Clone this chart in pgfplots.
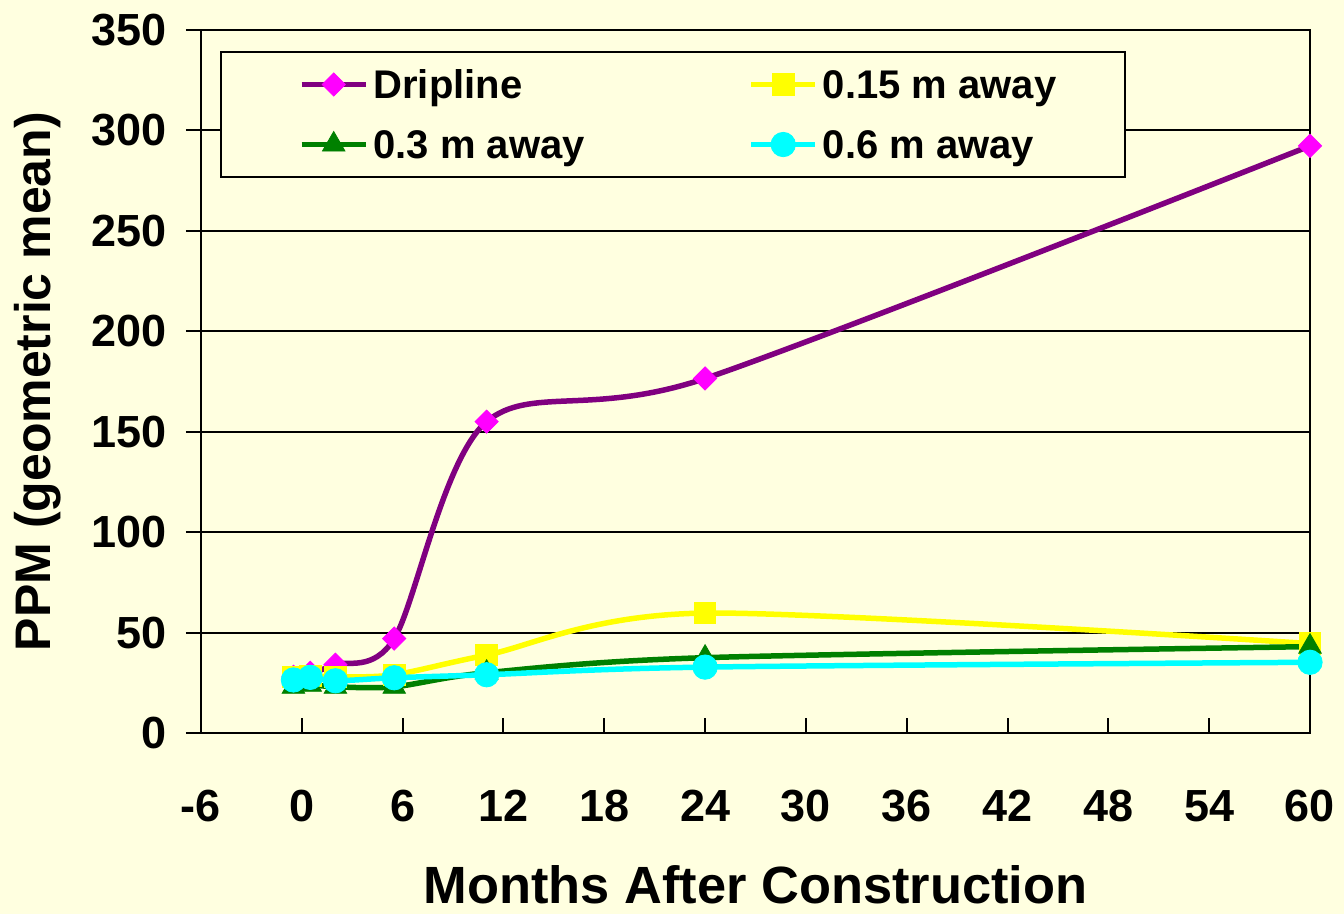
\documentclass[border=0pt]{standalone}
\usepackage{pgfplots}
\pgfplotsset{compat=1.18}
\usepackage{fontspec}
\setmainfont{Liberation Sans}
\definecolor{bg}{RGB}{255,255,224}
\definecolor{drip}{RGB}{128,0,128}
\definecolor{dripm}{RGB}{255,0,255}
\definecolor{yel}{RGB}{255,255,0}
\definecolor{grn}{RGB}{0,128,0}
\definecolor{cya}{RGB}{0,255,255}
\begin{document}
\begin{tikzpicture}
\fill[bg] (-100.5pt,-90.5pt) rectangle (571.5pt,366.5pt);
\begin{axis}[
  at={(0,0)}, anchor=south west,
  scale only axis, width=554.5pt, height=351.5pt,
  xmin=-6, xmax=60, ymin=0, ymax=350,
  xtick={-6,0,6,12,18,24,30,36,42,48,54,60},
  xticklabels={-6,0,6,12,18,24,30,36,42,48,54,60},
  ytick={0,50,100,150,200,250,300,350},
  yticklabels={0,50,100,150,200,250,300,350},
  axis line style={line width=1pt, black},
  ymajorgrids, grid style={line width=1pt, black},
  major tick length=7.5pt,
  xtick align=inside, ytick align=outside,
  tick style={line width=1pt, black},
  xtick pos=bottom, ytick pos=left,
  xticklabel style={font=\fontsize{22.5}{27}\selectfont\bfseries, inner sep=0pt, anchor=north, yshift=-28.5pt},
  yticklabel style={font=\fontsize{22.5}{27}\selectfont\bfseries, inner sep=0pt, anchor=east, xshift=-9.5pt},
  xlabel={Months After Construction},
  ylabel={PPM (geometric mean)},
  every axis x label/.style={at={(axis description cs:0.5,0)}, anchor=center, yshift=-76pt, font=\fontsize{26.2}{30}\selectfont\bfseries},
  every axis y label/.style={at={(axis description cs:0,0.5)}, rotate=90, anchor=center, yshift=81.75pt, font=\fontsize{25}{30}\selectfont\bfseries},
  legend columns=2,
  legend cell align=left,
  legend style={at={(0.0171,0.9701)}, anchor=north west, fill=bg, draw=black, line width=1pt,
    inner xsep=39pt, inner ysep=1.25pt, row sep=0pt,
    font=\fontsize{20}{24}\selectfont\bfseries,
    nodes={inner sep=0pt, text height=22.2pt, text depth=7.8pt},
    /tikz/every odd column/.append style={column sep=2.5pt}},
  legend image code/.code={\draw[mark repeat=2, mark phase=2, #1] plot coordinates {(0pt,0pt) (16pt,0pt) (32pt,0pt)};},
]
\addplot[drip, line width=2.75pt, smooth, mark=square*, mark size=4.1pt,
  mark options={fill=dripm, draw=dripm, line width=0.4pt, rotate=45, solid}] coordinates {
  (-0.5,28) (0.5,30) (2,34) (5.5,47) (11,155) (24,176.5) (60,292.3)};
\addlegendentry{\makebox[187.5pt][l]{Dripline}}
\addplot[yel, line width=2.75pt, smooth, mark=square*, mark size=5.4pt,
  mark options={fill=yel, draw=yel, line width=0.4pt, solid}] coordinates {
  (-0.5,28) (0.5,28.5) (2,28) (5.5,29) (11,38.8) (24,59.7) (60,44.5)};
\addlegendentry{\makebox[112pt][l]{0.15 m away}}
\addplot[grn, line width=2.75pt, smooth, mark=triangle*, mark size=6.5pt,
  mark options={fill=grn, draw=grn, line width=0.4pt, solid}] coordinates {
  (-0.5,23) (0.5,24) (2,23) (5.5,23) (11,30) (24,37.5) (60,43)};
\addlegendentry{\makebox[187.5pt][l]{0.3 m away}}
\addplot[cya, line width=2.75pt, smooth, mark=*, mark size=6.1pt,
  mark options={fill=cya, draw=cya, line width=0.4pt, solid}] coordinates {
  (-0.5,26.4) (0.5,27.7) (2,26) (5.5,27.5) (11,29) (24,32.8) (60,35.2)};
\addlegendentry{\makebox[112pt][l]{0.6 m away}}
\end{axis}
\pgfresetboundingbox
\path[use as bounding box] (-100.5pt,-90.5pt) rectangle (571.5pt,366.5pt);
\end{tikzpicture}
\end{document}
